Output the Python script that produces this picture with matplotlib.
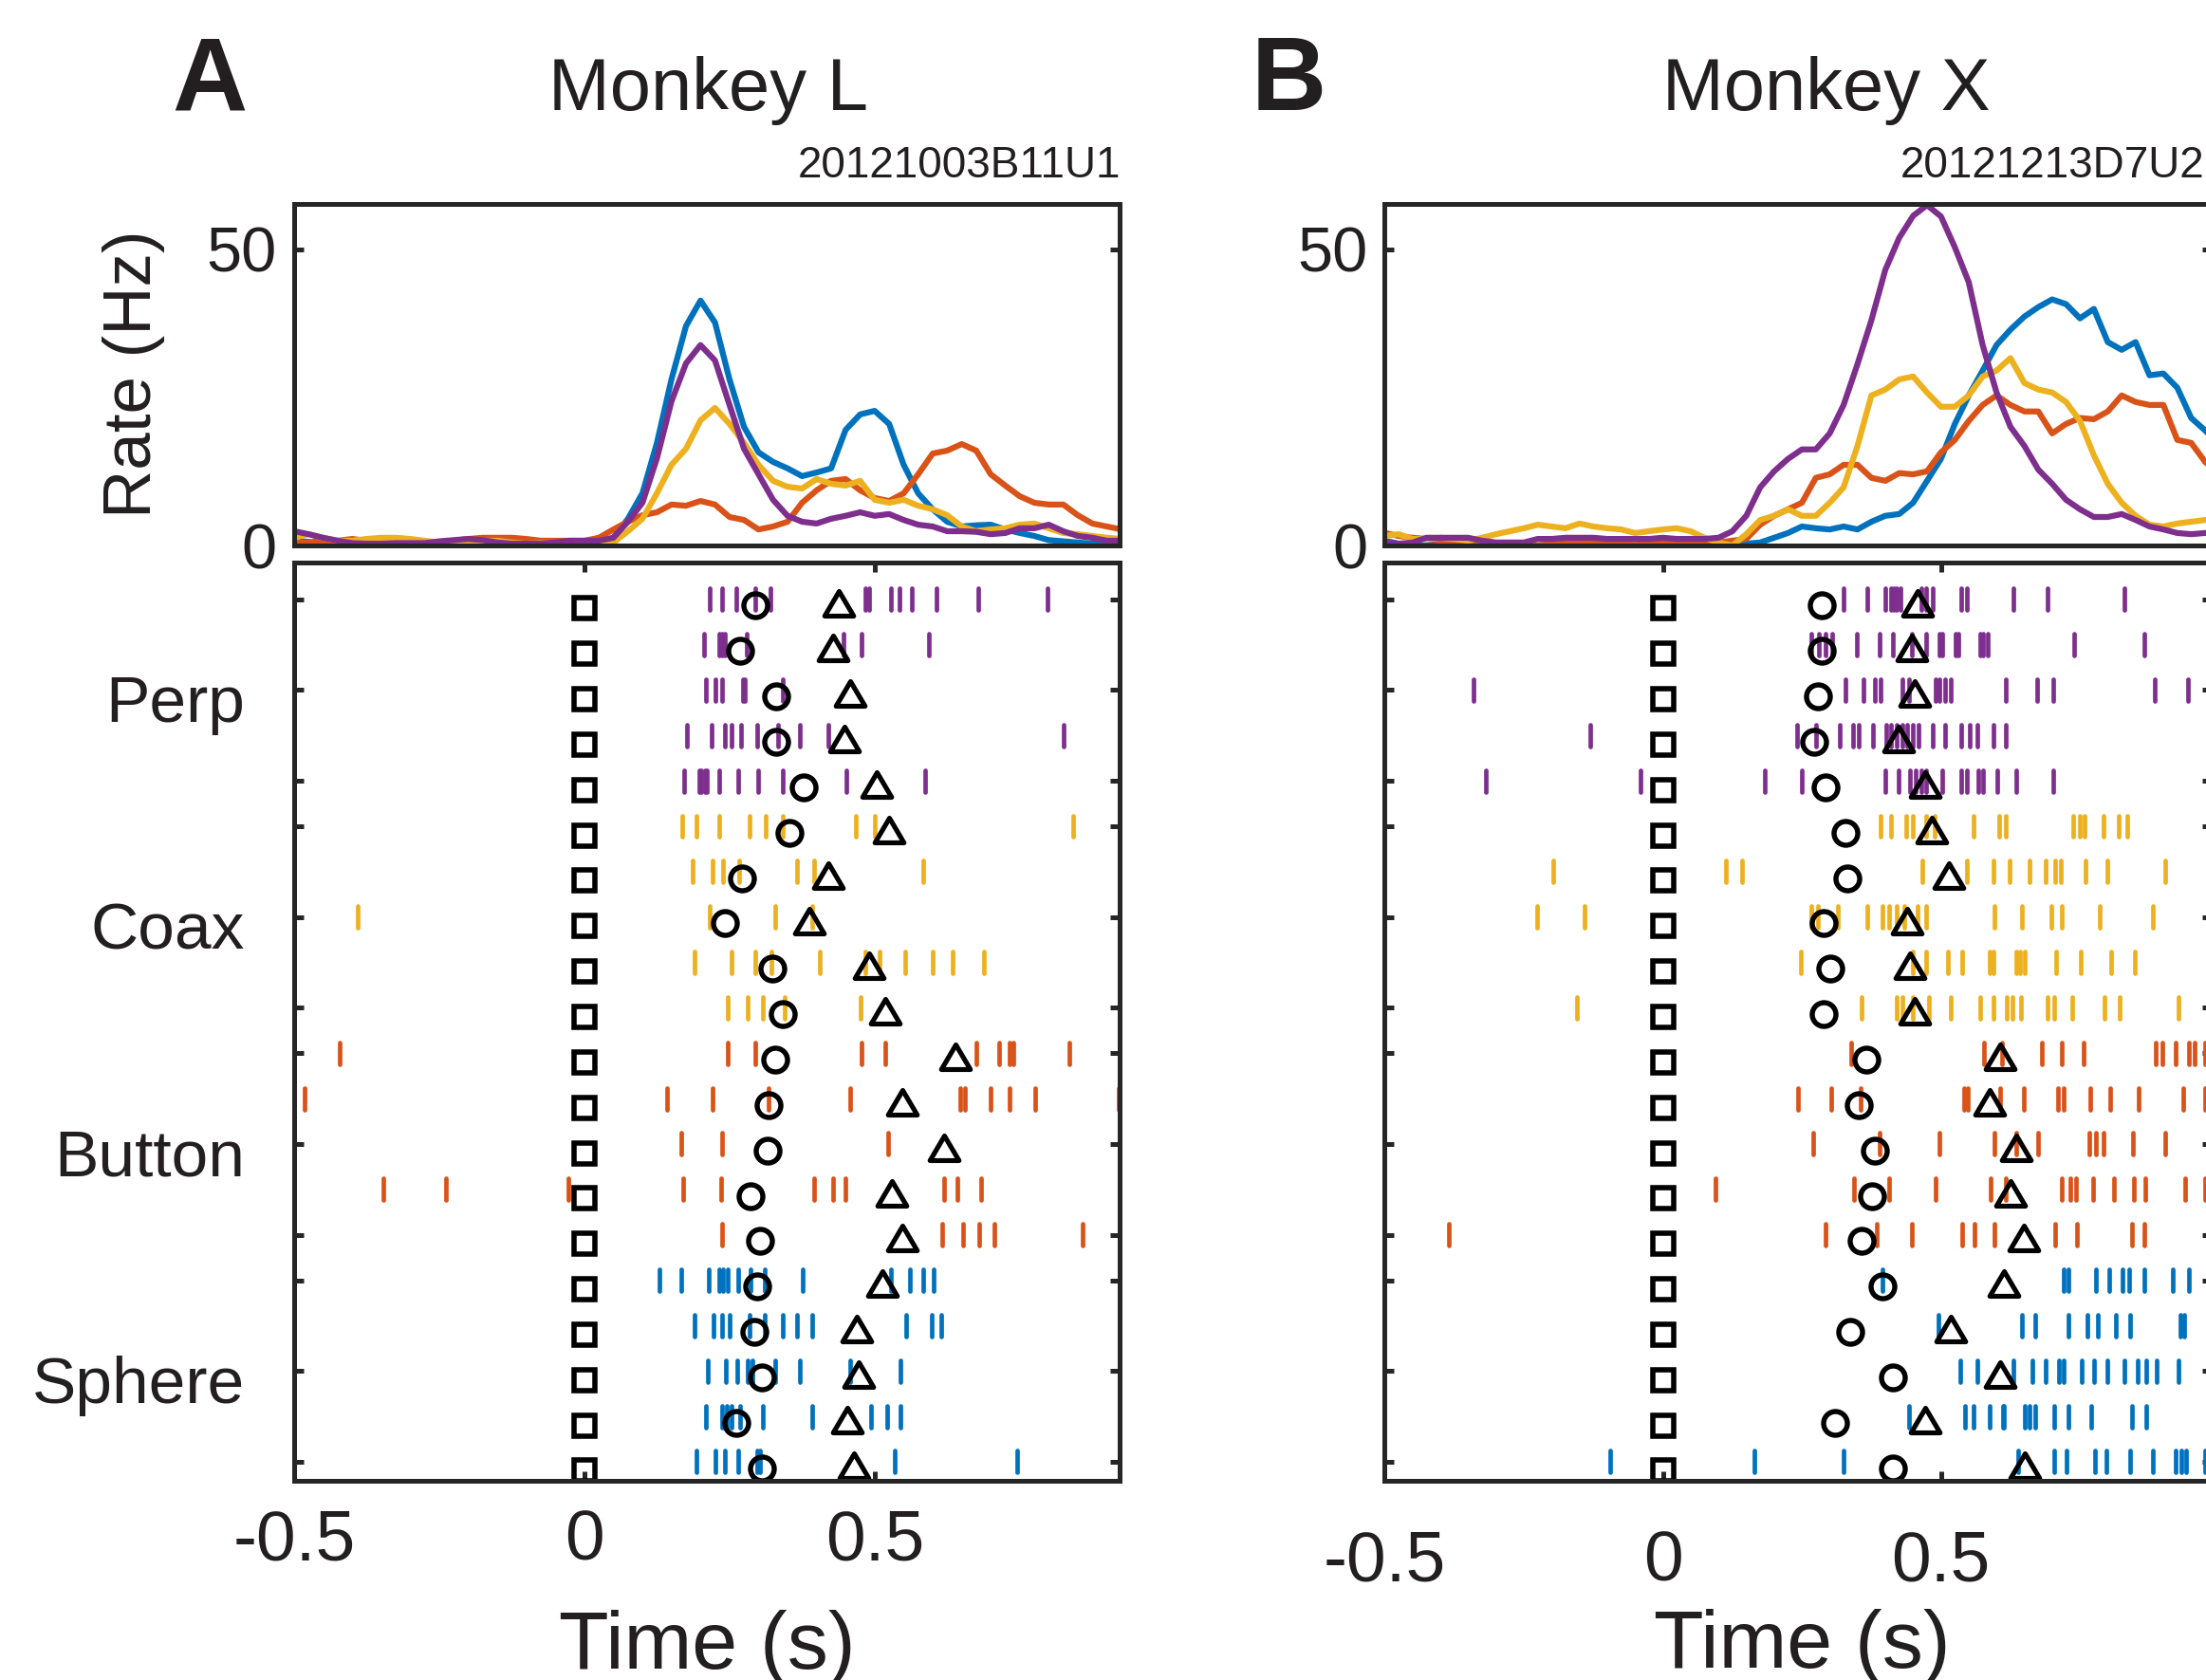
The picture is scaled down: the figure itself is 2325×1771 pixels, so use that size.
import numpy as np
import matplotlib
matplotlib.use("Agg")
import matplotlib.pyplot as plt
from matplotlib.path import Path

plt.rcParams["font.family"] = ["Liberation Sans", "DejaVu Sans"]

W, H, DPI = 2325, 1771, 100
AX_COL = "#262626"
TXT_COL = "#231f20"

conditions = ["Perp", "Coax", "Button", "Sphere"]
cond_colors = ["#7E2F8E", "#EDB120", "#D95319", "#0072BD"]
label_rows = [3, 8, 13, 18]
ytick_rows = [1, 3, 5, 6, 8, 10, 11, 13, 15, 16, 18, 20]

# ---- PSTH (Hz), 25 ms bins ----
t_L = np.round(np.arange(-0.5, 0.926, 0.025), 3)
rate_L_sphere = [0.8, 0.6, 0.3, 0.1, 0, 0, 0.1, 0.2, 0.2, 0.2, 0.1, 0, 0, 0, 0.1, 0.2, 0.2, 0.1, 0.1, 0.2,
                 0.3, 0.5, 1.3, 4.5, 8.8, 17.3, 28, 37, 41.3, 37.6, 28, 20, 15.7, 14.1, 13, 11.7, 12.3, 13,
                 19.5, 22.1, 22.7, 20.5, 13.6, 8.8, 6.1, 4, 3.2, 3.4, 3.5, 2.7, 2.1, 1.6, 0.9, 0.7, 0.5,
                 0.3, 0.3, 0.7]
rate_L_button = [0.5, 0.5, 0.8, 0.8, 1.1, 0.8, 0.8, 0.5, 0.4, 0.5, 0.5, 0.8, 1.1, 1.3, 1.3, 1.3, 1.1, 0.8, 0.8, 0.8,
                 0.8, 1.3, 2.7, 4, 5.1, 5.6, 6.9, 6.7, 7.5, 6.9, 4.8, 4.3, 2.7, 3.2, 4, 7.2, 9.3, 10.9,
                 11.2, 9.3, 8, 7.5, 8.8, 12, 15.5, 16, 17.1, 16, 12, 10.1, 8.3, 7.2, 6.9, 6.9, 5.1, 3.7,
                 3.2, 2.7]
rate_L_coax = [1.3, 1.9, 1.3, 0.8, 0.8, 1.1, 1.3, 1.3, 1.1, 0.8, 0.5, 0.5, 0.8, 0.8, 0.8, 0.5, 0.3, 0.4, 0.3, 0.2,
               0, 0, 0.5, 2.4, 4.5, 8.8, 13.6, 16.3, 21.1, 23.2, 20.5, 17.3, 13.6, 10.9, 9.9, 9.6, 11.2,
               10.4, 10.1, 10.9, 7.7, 7.2, 7.7, 6.7, 6.1, 5.1, 3.2, 2.4, 2.7, 2.9, 3.5, 3.7, 2.9, 2.1, 1.9,
               1.6, 1.3, 1.1]
rate_L_perp = [2.4, 1.9, 1.3, 0.8, 0.4, 0.3, 0.3, 0.4, 0.4, 0.4, 0.7, 0.9, 1.1, 0.9, 0.5, 0.3, 0.3, 0.3, 0.5, 0.8,
               0.8, 0.8, 1.3, 4, 7.2, 14.7, 24.3, 30.7, 33.8, 31.2, 23.7, 16.3, 12, 7.7, 5, 4, 3.7, 4.5, 5,
               5.6, 5, 5.3, 4.3, 3.5, 3.2, 2.4, 2.4, 2.3, 1.9, 2.1, 2.9, 2.9, 3.5, 2.4, 1.6, 1.3, 0.8, 0.8]

t_X = np.round(np.arange(-0.5, 1.001, 0.025), 3)
rate_X_sphere = [0.8, 0.3, 0, 0, 0.1, 0.2, 0.3, 0.3, 0.1, 0, 0, 0, 0.2, 0.3, 0.3, 0.3, 0.3, 0.2, 0, 0,
                 0, 0, 0, 0.1, 0.2, 0.2, 0.3, 0.5, 1.3, 2.1, 3.2, 2.9, 2.7, 3.2, 2.7, 4, 5, 5.3, 7.2, 10.9,
                 14.6, 20.5, 25.3, 29.5, 33.8, 36.4, 38.6, 40.2, 41.5, 40.7, 38.3, 39.9, 34.3, 33, 34.3,
                 28.7, 29, 26.6, 21.5, 19.4, 17]
rate_X_button = [2.1, 1.6, 1.3, 1.1, 0.8, 0.5, 0, 0, 0, 0, 0, 0, 0.2, 0.3, 0.3, 0.3, 0.3, 0.2, 0.1, 0.3,
                 0.3, 0.3, 0.3, 0.5, 0.5, 0.8, 1.1, 3.5, 5, 6.1, 7.2, 11.4, 12, 13.6, 13.6, 11.4, 10.9, 12.2,
                 12, 12.5, 15.7, 17.8, 21, 23.7, 25.3, 23.7, 22.6, 22.6, 18.9, 20.5, 21.5, 21.3, 22.6, 25.3,
                 24.2, 23.7, 23.7, 17.8, 17.3, 14.1, 12]
rate_X_coax = [1.6, 1.9, 1.1, 1.1, 1.3, 1.1, 0.8, 1.3, 1.9, 2.4, 2.9, 3.5, 3.2, 2.9, 3.7, 3.2, 2.9, 2.7, 2.1, 2.4,
               2.7, 2.9, 2.4, 1.3, 0.5, 0, 1.9, 4.3, 5, 6.1, 5, 5, 7.2, 9.8, 16.8, 25.3, 26.3, 28, 28.5,
               25.8, 23.4, 23.4, 25.3, 28.5, 29.5, 31.6, 27.4, 26.3, 25.8, 24.2, 21, 15.2, 10.4, 7.2, 5,
               3.5, 3.2, 3.7, 4, 4.3, 4.5]
rate_X_perp = [0.5, 0.3, 0.5, 1.3, 1.3, 1.3, 1.3, 0.8, 0.5, 0.5, 0.5, 1.1, 1.1, 1.3, 1.3, 1.3, 1.1, 1.1, 1.1, 1.1,
               1.3, 1.1, 1.1, 1.1, 1.3, 2.4, 5, 9.8, 12.5, 14.6, 16.2, 16.2, 18.9, 23.7, 30.6, 38, 46.5,
               51.9, 55.6, 57.4, 55.5, 50.3, 44.4, 33.8, 25.8, 20, 16.8, 12.8, 10.4, 7.7, 6.1, 4.8, 4.8,
               5.3, 4.3, 3.2, 2.7, 2.1, 1.9, 2.1, 2.3]

# ---- spike rasters (s), 5 trials per condition ----
perp_L = [[0.216, 0.237, 0.261, 0.294, 0.320, 0.484, 0.491, 0.528, 0.542, 0.564, 0.606, 0.678, 0.798],
          [0.206, 0.233, 0.237, 0.242, 0.280, 0.447, 0.477, 0.594],
          [0.209, 0.226, 0.237, 0.273, 0.277, 0.341],
          [0.176, 0.219, 0.242, 0.254, 0.270, 0.298, 0.333, 0.371, 0.420, 0.826],
          [0.172, 0.198, 0.202, 0.208, 0.211, 0.233, 0.265, 0.300, 0.341, 0.451, 0.587]]
coax_L = [[0.169, 0.193, 0.233, 0.284, 0.313, 0.341, 0.467, 0.500, 0.842],
          [0.186, 0.221, 0.239, 0.267, 0.367, 0.395, 0.584],
          [-0.391, 0.216, 0.329, 0.392],
          [0.190, 0.254, 0.294, 0.322, 0.406, 0.484, 0.509, 0.553, 0.600, 0.634, 0.688],
          [0.247, 0.282, 0.308, 0.345, 0.475]]
button_L = [[-0.421, 0.247, 0.295, 0.477, 0.519, 0.676, 0.714, 0.733, 0.739, 0.835],
            [-0.482, 0.142, 0.220, 0.317, 0.458, 0.648, 0.655, 0.699, 0.732, 0.777, 0.920],
            [0.167, 0.237, 0.523],
            [-0.347, -0.238, -0.027, 0.170, 0.235, 0.395, 0.428, 0.450, 0.620, 0.643, 0.684],
            [0.237, 0.617, 0.653, 0.680, 0.706, 0.858]]
sphere_L = [[0.129, 0.167, 0.214, 0.233, 0.239, 0.247, 0.265, 0.287, 0.310, 0.376, 0.528, 0.561, 0.583, 0.601],
            [0.189, 0.223, 0.237, 0.251, 0.284, 0.310, 0.341, 0.366, 0.392, 0.554, 0.599, 0.614],
            [0.212, 0.244, 0.264, 0.282, 0.289, 0.329, 0.371, 0.458, 0.545],
            [0.209, 0.237, 0.245, 0.254, 0.268, 0.308, 0.392, 0.493, 0.521, 0.545],
            [0.193, 0.226, 0.242, 0.265, 0.298, 0.303, 0.535, 0.746]]
onset_L = [0.0] * 20
circle_L = [0.294, 0.268, 0.331, 0.331, 0.378, 0.353, 0.272, 0.242, 0.324, 0.341,
            0.329, 0.317, 0.315, 0.286, 0.303, 0.298, 0.292, 0.306, 0.261, 0.306]
triangle_L = [0.439, 0.428, 0.458, 0.448, 0.503, 0.525, 0.420, 0.387, 0.491, 0.519,
              0.639, 0.547, 0.619, 0.530, 0.547, 0.514, 0.469, 0.473, 0.453, 0.465]

perp_X = [[0.325, 0.368, 0.400, 0.411, 0.416, 0.420, 0.428, 0.464, 0.474, 0.486, 0.537, 0.546, 0.630, 0.691, 0.830],
          [0.267, 0.281, 0.293, 0.305, 0.349, 0.390, 0.413, 0.448, 0.474, 0.498, 0.503, 0.527, 0.532, 0.570,
           0.575, 0.585, 0.739, 0.866],
          [-0.340, 0.328, 0.361, 0.382, 0.392, 0.431, 0.443, 0.491, 0.498, 0.508, 0.517, 0.616, 0.673, 0.702,
           0.885, 0.944],
          [-0.130, 0.241, 0.275, 0.318, 0.342, 0.353, 0.377, 0.402, 0.411, 0.421, 0.430, 0.440, 0.450, 0.460,
           0.486, 0.508, 0.537, 0.551, 0.566, 0.594, 0.617],
          [-0.319, -0.041, 0.183, 0.250, 0.400, 0.424, 0.445, 0.455, 0.464, 0.474, 0.503, 0.537, 0.546, 0.568,
           0.575, 0.602, 0.635, 0.702]]
coax_X = [[0.392, 0.411, 0.438, 0.450, 0.474, 0.488, 0.559, 0.604, 0.617, 0.737, 0.749, 0.758, 0.792, 0.819, 0.835],
          [-0.197, 0.113, 0.142, 0.467, 0.546, 0.594, 0.623, 0.659, 0.688, 0.705, 0.715, 0.760, 0.800, 0.903],
          [-0.227, -0.141, 0.267, 0.278, 0.315, 0.368, 0.395, 0.407, 0.421, 0.434, 0.458, 0.474, 0.596, 0.645,
           0.698, 0.718, 0.785, 0.881],
          [0.248, 0.450, 0.474, 0.513, 0.539, 0.588, 0.594, 0.636, 0.643, 0.650, 0.707, 0.751, 0.806, 0.848],
          [-0.154, 0.358, 0.421, 0.431, 0.450, 0.479, 0.517, 0.570, 0.594, 0.618, 0.628, 0.644, 0.691, 0.703,
           0.736, 0.794, 0.821, 0.927]]
button_X = [[0.339, 0.578, 0.609, 0.681, 0.717, 0.756, 0.886, 0.898, 0.922, 0.946, 0.956, 0.975],
            [0.243, 0.303, 0.355, 0.541, 0.549, 0.607, 0.649, 0.710, 0.720, 0.768, 0.804, 0.856, 0.936, 0.975],
            [0.270, 0.390, 0.498, 0.597, 0.635, 0.674, 0.766, 0.778, 0.792, 0.845, 0.903],
            [0.095, 0.344, 0.407, 0.490, 0.590, 0.617, 0.717, 0.732, 0.743, 0.773, 0.811, 0.847, 0.867, 0.939,
             0.975],
            [-0.385, 0.293, 0.384, 0.447, 0.539, 0.561, 0.596, 0.705, 0.744, 0.843, 0.866]]
sphere_X = [[0.394, 0.720, 0.729, 0.779, 0.803, 0.826, 0.838, 0.866, 0.917, 0.946],
            [0.496, 0.645, 0.669, 0.729, 0.763, 0.782, 0.814, 0.840, 0.930, 0.937],
            [0.534, 0.565, 0.631, 0.664, 0.689, 0.712, 0.720, 0.753, 0.775, 0.800, 0.830, 0.853, 0.869, 0.888,
             0.927],
            [0.442, 0.544, 0.559, 0.588, 0.611, 0.614, 0.650, 0.660, 0.669, 0.703, 0.729, 0.770, 0.843, 0.869],
            [-0.094, 0.164, 0.325, 0.638, 0.703, 0.726, 0.777, 0.797, 0.840, 0.881, 0.922, 0.932, 0.941, 0.975]]
onset_X = [0.0] * 20
circle_X = [0.286, 0.286, 0.279, 0.272, 0.293, 0.329, 0.332, 0.289, 0.301, 0.289,
            0.366, 0.352, 0.381, 0.376, 0.358, 0.394, 0.337, 0.414, 0.310, 0.414]
triangle_X = [0.458, 0.448, 0.453, 0.424, 0.472, 0.484, 0.515, 0.440, 0.445, 0.453,
              0.607, 0.588, 0.636, 0.626, 0.649, 0.614, 0.517, 0.607, 0.472, 0.650]

tri_marker = Path([(-1, -0.85), (1, -0.85), (0, 0.85), (-1, -0.85)], closed=True)

fig = plt.figure(figsize=(W / DPI, H / DPI), dpi=DPI)


def add_axes(left, top, right, bottom):
    return fig.add_axes([left / W, 1 - bottom / H, (right - left) / W, (bottom - top) / H])


def style(ax):
    for s in ax.spines.values():
        s.set_linewidth(3.6)
        s.set_color(AX_COL)
    ax.tick_params(direction="in", length=7, width=3.6, color=AX_COL, labelcolor=TXT_COL,
                   top=True, right=True)


def panel(left, right, xmax, t, rates, rasters, onset, circ, tri, xlab_pad, show_names):
    ax_r = add_axes(left, 215, right, 575)
    for rate, col in zip(rates, cond_colors[::-1]):
        ax_r.plot(t, rate, color=col, lw=4.5)
    ax_r.set_xlim(-0.5, xmax)
    ax_r.set_ylim(0, 57.6)
    style(ax_r)
    ax_r.set_xticks([])
    ax_r.set_yticks([0, 50])
    ax_r.set_yticklabels(["0", "50"], fontsize=48)
    ax_r.tick_params(axis="y", pad=13)

    ax = add_axes(left, 593, right, 1561)
    row = 1
    for trials, col in zip(rasters, cond_colors):
        for spikes in trials:
            ax.vlines(spikes, row - 0.24, row + 0.24, color=col, lw=3.4, capstyle="round")
            row += 1
    rows = np.arange(1, 21)
    ax.plot(onset, rows + 0.2, ls="none", marker="s", ms=16, mew=4.0, mec="black", mfc="none")
    ax.plot(circ, rows + 0.14, ls="none", marker="o", ms=18, mew=3.9, mec="black", mfc="none")
    ax.plot(tri, rows + 0.08, ls="none", marker=tri_marker, ms=22, mew=3.7, mec="black", mfc="none")
    ax.set_xlim(-0.5, xmax)
    ax.set_ylim(20.42, 0.19)
    style(ax)
    ax.set_yticks(ytick_rows)
    ax.set_yticklabels([])
    ax.set_xticks([-0.5, 0, 0.5])
    ax.set_xticklabels(["-0.5", "0", "0.5"], fontsize=54)
    ax.tick_params(axis="x", pad=xlab_pad)
    if show_names:
        for name, r in zip(conditions, label_rows):
            ax.text(-0.585, r + 0.7, name, ha="right", va="baseline", fontsize=50,
                    color=TXT_COL, clip_on=False)
    return ax_r, ax


panel(310, 1180, 0.922, t_L, [rate_L_sphere, rate_L_button, rate_L_coax, rate_L_perp],
      [perp_L, coax_L, button_L, sphere_L], onset_L, circle_L, triangle_L, 21, True)
panel(1459.5, 2330.5, 0.986, t_X, [rate_X_sphere, rate_X_button, rate_X_coax, rate_X_perp],
      [perp_X, coax_X, button_X, sphere_X], onset_X, circle_X, triangle_X, 37, False)


def ftext(x, y, s, **kw):
    kw.setdefault("color", TXT_COL)
    fig.text(x / W, 1 - y / H, s, **kw)


ftext(221, 116, "A", fontsize=79, weight="bold", ha="center", va="baseline")
ftext(747, 116, "Monkey L", fontsize=56, ha="center", va="baseline")
ftext(1181, 187, "20121003B11U1", fontsize=33, ha="right", va="baseline")
ftext(1358, 116, "B", fontsize=79, weight="bold", ha="center", va="baseline")
ftext(1925, 116, "Monkey X", fontsize=56, ha="center", va="baseline")
ftext(2003, 187, "20121213D7U2", fontsize=33, ha="left", va="baseline")
ftext(141, 394, "Rate (Hz)", fontsize=51, rotation=90, ha="center", va="center")
ftext(745, 1759, "Time (s)", fontsize=62, ha="center", va="baseline")
ftext(1899, 1758, "Time (s)", fontsize=62, ha="center", va="baseline")

fig.savefig("out.png", dpi=DPI)
